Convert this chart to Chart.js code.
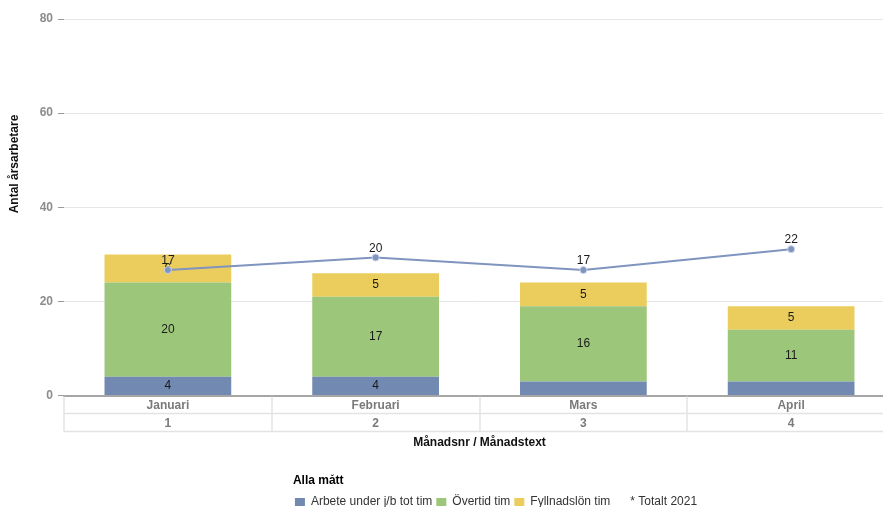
<!DOCTYPE html>
<html lang="sv">
<head>
<meta charset="utf-8">
<title>Antal årsarbetare per månad</title>
<script src="https://cdn.jsdelivr.net/npm/chart.js@4.4.1/dist/chart.umd.min.js"></script>
<style>
  html, body { margin: 0; padding: 0; background: #fff; overflow: hidden; }
  #wrap { width: 900px; height: 518px; }
</style>
</head>
<body>
<div id="wrap"><canvas id="chart" width="900" height="518"></canvas></div>
<script>
// Months on the category axis (name row + number row)
const months = ['Januari', 'Februari', 'Mars', 'April'];
const monthNumbers = ['1', '2', '3', '4'];

// Stacked hour measures
const arbeteTim = [4, 4, 3, 3];
const overtidTim = [20, 17, 16, 11];
const fyllnadTim = [6, 5, 5, 5];

// Yearly total, drawn as a line on its own (hidden) scale
const totalt2021 = [17, 20, 17, 22];

// Left axis ticks
const yTicks = [0, 20, 40, 60, 80];

const FONT = "'Liberation Sans', Arial, Helvetica, sans-serif";

// Value labels: centred in bar segments, above line points
const valueLabels = {
  id: 'valueLabels',
  afterDatasetDraw(chart, args) {
    const meta = args.meta;
    const ds = chart.data.datasets[args.index];
    const ctx = chart.ctx;
    ctx.save();
    ctx.font = '12px ' + FONT;
    ctx.fillStyle = '#1a1a1a';
    ctx.textAlign = 'center';
    ctx.textBaseline = 'middle';
    meta.data.forEach((el, i) => {
      const v = ds.data[i];
      if (meta.type === 'bar') {
        const h = Math.abs(el.base - el.y);
        if (h < 16) return;
        ctx.fillText(String(v), el.x, (el.y + el.base) / 2);
      } else {
        ctx.fillText(String(v), el.x, el.y - 9);
      }
    });
    ctx.restore();
  }
};

// Two-row table framing the category labels under the axis
const categoryTable = {
  id: 'categoryTable',
  afterDraw(chart) {
    const xs = chart.scales.x;
    const ctx = chart.ctx;
    const top = chart.chartArea.bottom;
    const mid = top + 18;
    const bottom = top + 36;
    const n = chart.data.labels.length;
    const half = (xs.getPixelForValue(1) - xs.getPixelForValue(0)) / 2;
    ctx.save();
    ctx.strokeStyle = '#e3e3e3';
    ctx.lineWidth = 1.5;
    ctx.beginPath();
    for (let i = 0; i <= n; i++) {
      const x = Math.round(xs.getPixelForValue(i) - half);
      ctx.moveTo(x, top + 1);
      ctx.lineTo(x, bottom);
    }
    ctx.moveTo(xs.left, mid);
    ctx.lineTo(xs.right, mid);
    ctx.moveTo(xs.left, bottom);
    ctx.lineTo(xs.right, bottom);
    ctx.stroke();
    ctx.restore();
  }
};

// Left axis caption
const yCaption = {
  id: 'yCaption',
  afterDraw(chart, args, opts) {
    const ctx = chart.ctx;
    ctx.save();
    ctx.translate(opts.x, opts.y);
    ctx.rotate(-Math.PI / 2);
    ctx.font = 'bold 12px ' + FONT;
    ctx.fillStyle = '#111';
    ctx.textAlign = 'center';
    ctx.textBaseline = 'middle';
    ctx.fillText(opts.text, 0, 0);
    ctx.restore();
  }
};

// Places the legend block around a given horizontal centre
const legendPlacement = {
  id: 'legendPlacement',
  afterLayout(chart, args, opts) {
    const lg = chart.legend;
    if (!lg) return;
    const dx = opts.centerX - (lg.left + lg.right) / 2;
    lg.left += dx;
    lg.right += dx;
  }
};

const legendDefaults = Chart.defaults.plugins.legend.labels.generateLabels;

new Chart(document.getElementById('chart'), {
  data: {
    labels: months,
    datasets: [
      {
        type: 'bar', label: 'Arbete under j/b tot tim', data: arbeteTim,
        backgroundColor: '#7289b2', stack: 'tim', order: 1
      },
      {
        type: 'bar', label: 'Övertid tim', data: overtidTim,
        backgroundColor: '#9cc67a', stack: 'tim', order: 1
      },
      {
        type: 'bar', label: 'Fyllnadslön tim', data: fyllnadTim,
        backgroundColor: '#eacd5c', stack: 'tim', order: 1
      },
      {
        type: 'line', label: 'Totalt 2021', data: totalt2021, yAxisID: 'y2',
        borderColor: '#7f94bf', borderWidth: 2, tension: 0,
        pointRadius: 3.5, pointBackgroundColor: '#7f94bf',
        pointBorderColor: '#c9d3e8', pointBorderWidth: 1, order: 0
      }
    ]
  },
  options: {
    responsive: false,
    animation: false,
    events: [],
    layout: { padding: { top: 19, right: 5, bottom: 0, left: 0 } },
    datasets: {
      bar: { categoryPercentage: 1, barPercentage: 0.61 }
    },
    scales: {
      x: {
        stacked: true,
        grid: { display: false, drawTicks: false },
        border: { display: true, color: '#a6a6a6', width: 2 },
        ticks: {
          autoSkip: false, maxRotation: 0, padding: 1,
          color: '#7a7a7a',
          font: { family: FONT, size: 12, weight: 'bold', lineHeight: '18px' },
          callback: (v, i) => [months[i], monthNumbers[i]]
        },
        title: {
          display: true, text: 'Månadsnr / Månadstext', color: '#111',
          font: { family: FONT, size: 12, weight: 'bold' },
          padding: { top: 0, bottom: 25 }
        },
        afterFit: s => { s.height = 79; }
      },
      y: {
        stacked: true, min: 0, max: 80,
        afterBuildTicks: s => { s.ticks = yTicks.map(v => ({ value: v })); },
        grid: { color: '#e6e6e6', lineWidth: 1, tickLength: 6, tickColor: '#9a9a9a' },
        border: { display: false },
        ticks: { color: '#8c8c8c', padding: 5, font: { family: FONT, size: 12, weight: 'bold' } },
        afterFit: s => { s.width = 64; }
      },
      y2: { display: false, min: -13, max: 77 }
    },
    plugins: {
      tooltip: { enabled: false },
      legend: {
        position: 'bottom', fullSize: false, align: 'center',
        title: {
          display: true, text: 'Alla mått', position: 'start', color: '#000',
          font: { family: FONT, size: 12, weight: 'bold' },
          padding: { top: 0, bottom: 3 }
        },
        labels: {
          boxWidth: 10, boxHeight: 8, padding: 4, color: '#333',
          font: { family: FONT, size: 12 },
          sort: (a, b) => a.datasetIndex - b.datasetIndex,
          generateLabels: chart => legendDefaults(chart).map(item => {
            const ds = chart.data.datasets[item.datasetIndex];
            if (ds.type === 'line') {
              return Object.assign({}, item, {
                text: '* ' + ds.label,
                fillStyle: 'rgba(0,0,0,0)', strokeStyle: 'rgba(0,0,0,0)', lineWidth: 0
              });
            }
            return Object.assign({}, item, { strokeStyle: 'rgba(0,0,0,0)', lineWidth: 0 });
          })
        }
      },
      yCaption: { text: 'Antal årsarbetare', x: 15, y: 164 },
      legendPlacement: { centerX: 496 }
    }
  },
  plugins: [valueLabels, categoryTable, yCaption, legendPlacement]
});
</script>
</body>
</html>
